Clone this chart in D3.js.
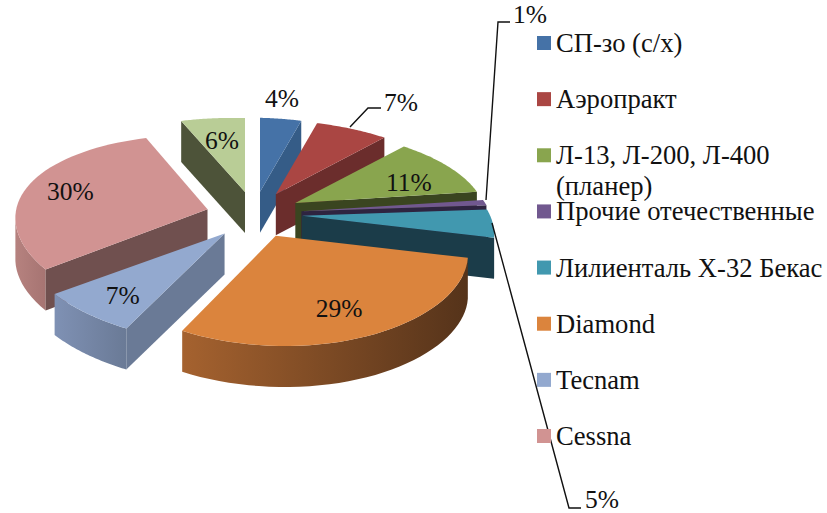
<!DOCTYPE html>
<html>
<head>
<meta charset="utf-8">
<script src="https://cdnjs.cloudflare.com/ajax/libs/d3/7.8.5/d3.min.js"></script>
<style>
body { margin: 0; background: #fff; }
text { font-family: "Liberation Serif", serif; fill: #111; }
</style>
</head>
<body>
<svg></svg>
<script>
const names = ["СП-зо (с/х)", "Аэропракт", "Л-13, Л-200, Л-400|(планер)", "Прочие отечественные",
    "Лилиенталь Х-32 Бекас", "Diamond", "Tecnam", "Cessna", ""];
const shares = [4, 7, 11, 1, 5, 29, 7, 30, 6];
const topColors = ["#4572a7", "#aa4643", "#89a54e", "#71588f", "#4198af", "#db843d", "#93a9cf", "#d19392", "#b9cd96"];
const wallColors = ["#355c87", "#6b2d2c", "#3a4520", "#2e2440", "#1b3c49", "#55331a", "#6a7a96", "#70504f", "#4d5339"];
const rimLeft = ["#4572a7", "#aa4643", "#3a4520", "#2e2440", "#4198af", "#a5622f", "#7f91b4", "#b6827f", "#4d5339"];
const rimRight = ["#355c87", "#6b2d2c", "#3a4520", "#2e2440", "#1b3c49", "#55331a", "#6a7a96", "#a67472", "#4d5339"];

const svgWidth = 827;
const svgHeight = 513;
const svg = d3.select("svg").attr("width", svgWidth).attr("height", svgHeight);
const defs = svg.append("defs");

// pie geometry, fitted to the tilted look of the picture
const cx = 254, cy = 215;
const rx = 190, ky = 88.5, perspX = 0.15, perspY = 0.196, shear = 0.025;
const explodeX = 48, explodeY = 23.4;
const depth = 41;
// the Tecnam slice and the 6% slice sit a little wider than the rest
const widen = [1, 1, 1, 1, 1, 1, 1.05, 1, 1.04];

const pie = d3.pie().sort(null).value(d => d);
const arcs = pie(shares);

function rimPoint(a, r) {
    const u = r * Math.sin(a), v = -r * Math.cos(a);
    const x = u * rx / (1 - perspX * v);
    return [x, v * ky / (1 - perspY * v) + shear * x];
}

const line = d3.line();
const slices = arcs.map((d, i) => {
    const mid = (d.startAngle + d.endAngle) / 2;
    const apex = [cx + explodeX * Math.sin(mid), cy - explodeY * Math.cos(mid)];
    const rim = d3.range(0, 41).map(k => {
        const a = d.startAngle + (d.endAngle - d.startAngle) * k / 40;
        const p = rimPoint(a, 1);
        return [apex[0] + p[0] * widen[i], apex[1] + p[1]];
    });
    return {i, mid, apex, rim};
});

const down = p => [p[0], p[1] + depth];

const g = svg.append("g");
slices.slice().sort((a, b) => Math.cos(b.mid) - Math.cos(a.mid)).forEach(s => {
    const first = s.rim[0], last = s.rim[s.rim.length - 1];

    // rim wall, only the part turned to the viewer
    const visible = s.rim.filter((p, k) => {
        const a = arcs[s.i].startAngle + (arcs[s.i].endAngle - arcs[s.i].startAngle) * k / 40;
        return Math.cos(a) < -perspX;
    });
    if (visible.length > 1) {
        const id = "rim" + s.i;
        const xr = d3.extent(visible, p => p[0]);
        const grad = defs.append("linearGradient").attr("id", id)
            .attr("gradientUnits", "userSpaceOnUse")
            .attr("x1", xr[0]).attr("x2", xr[1]).attr("y1", 0).attr("y2", 0);
        grad.append("stop").attr("offset", 0).attr("stop-color", rimLeft[s.i]);
        grad.append("stop").attr("offset", 1).attr("stop-color", rimRight[s.i]);
        g.append("path")
            .attr("d", line(visible.concat(visible.map(down).reverse())) + "Z")
            .attr("fill", "url(#" + id + ")");
    }

    // radial walls: the edge whose polygon winds toward the viewer
    [first, last].forEach((p, e) => {
        const quad = [s.apex, p, down(p), down(s.apex)];
        const facing = (e === 0 ? d3.polygonArea(quad) > 0 : d3.polygonArea(quad) < 0);
        if (facing) {
            g.append("path").attr("d", line(quad) + "Z").attr("fill", wallColors[s.i]);
        }
    });

    g.append("path")
        .attr("d", line([s.apex].concat(s.rim)) + "Z")
        .attr("fill", topColors[s.i]);
});

// data labels
const labelFont = 25.5;
const labelR = [1.25, null, 0.72, null, null, 0.62, 0.7, 0.72, 0.78];
const labelShift = [[-3, -5], null, [2, 7], null, null, [5, 17], [-13, 10], [-8, 1], [2, 9]];
slices.forEach(s => {
    if (labelR[s.i] === null) return;
    const p = rimPoint(s.mid, labelR[s.i]);
    svg.append("text")
        .attr("x", s.apex[0] + p[0] + labelShift[s.i][0])
        .attr("y", s.apex[1] + p[1] + 8 + labelShift[s.i][1])
        .attr("text-anchor", "middle")
        .attr("font-size", labelFont)
        .text(shares[s.i] + "%");
});

// labels pulled out with leader lines
const leaders = [
    {i: 1, pts: [[350, 127], [368, 108], [381, 108]], x: 384, y: 111},
    {i: 3, pts: [[486, 200], [498, 22], [510, 22]], x: 513, y: 23},
    {i: 4, pts: [[492, 223], [569, 508], [581, 508]], x: 585, y: 507.5}
];
leaders.forEach(l => {
    svg.append("path").attr("d", line(l.pts))
        .attr("fill", "none").attr("stroke", "#111").attr("stroke-width", 1.4);
    svg.append("text").attr("x", l.x).attr("y", l.y)
        .attr("font-size", labelFont).text(shares[l.i] + "%");
});

// legend
const legendY = d3.scaleLinear().domain([0, 7]).range([43, 436]);
names.slice(0, 8).forEach((name, i) => {
    const row = svg.append("g").attr("transform", "translate(537," + legendY(i) + ")");
    row.append("rect").attr("x", 0).attr("y", -7).attr("width", 14).attr("height", 14)
        .attr("fill", topColors[i]);
    name.split("|").forEach((part, k) => {
        row.append("text").attr("x", 19).attr("y", 9 + k * 31)
            .attr("font-size", 26.6).text(part);
    });
});
</script>
</body>
</html>
